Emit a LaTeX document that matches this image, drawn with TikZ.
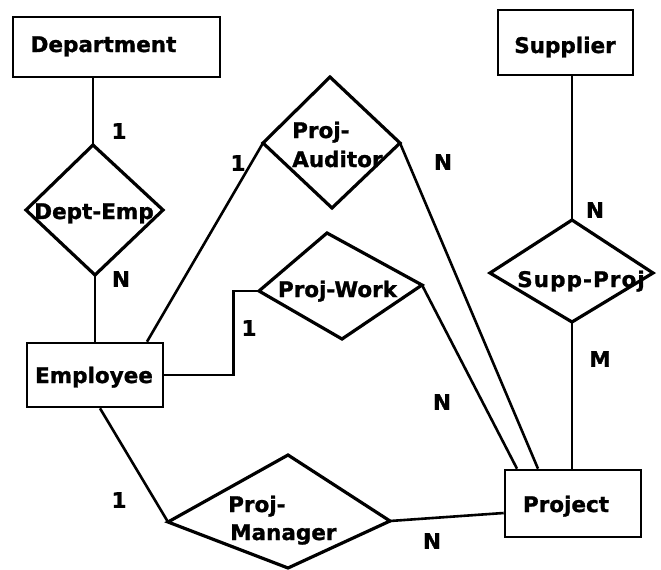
\documentclass[tikz,border=0pt]{standalone}
\usepackage{fontspec}
\setmainfont{DejaVu Sans}[BoldFeatures={FakeBold=1.2}]
\begin{document}
\begin{tikzpicture}[x=1pt,y=-1pt,
  lbl/.style={font=\bfseries\fontsize{21.5}{25}\selectfont, inner sep=0pt},
  card/.style={lbl},
  ent/.style={draw, line width=2.6pt, inner sep=0pt},
  rel/.style={draw, line width=3.2pt, line join=miter},
  link/.style={draw, line width=2.6pt}]
\useasboundingbox[fill=white] (0,0) rectangle (661,570);

% entity boxes
\node[ent, minimum width=207pt, minimum height=60pt] (dept) at (116.5,47) {};
\node[ent, minimum width=135pt, minimum height=65pt] (sup)  at (565.5,42.5) {};
\node[ent, minimum width=136pt, minimum height=64pt] (emp)  at (95,375) {};
\node[ent, minimum width=136pt, minimum height=67pt] (proj) at (573,503.5) {};

\node[lbl, anchor=base] (deptT) at (103.5,52) {Department};
\node[lbl, anchor=base] (supT)  at (565,53)   {Supplier};
\node[lbl, anchor=base] (empT)  at (94,383)   {Employee};
\node[lbl, anchor=base] (projT) at (566,512)  {Project};

% relationship diamonds (corner points)
\coordinate (de-n) at (93,145);  \coordinate (de-w) at (26,210);
\coordinate (de-e) at (163,210); \coordinate (de-s) at (95,275);
\coordinate (pa-n) at (330,77);  \coordinate (pa-w) at (263,143);
\coordinate (pa-e) at (400,143); \coordinate (pa-s) at (332,208);
\coordinate (pw-n) at (327,233); \coordinate (pw-w) at (259,291);
\coordinate (pw-e) at (422,285); \coordinate (pw-s) at (342,339);
\coordinate (sp-n) at (572,220); \coordinate (sp-w) at (490,273);
\coordinate (sp-e) at (653,273); \coordinate (sp-s) at (572,322);
\coordinate (pm-n) at (288,455); \coordinate (pm-w) at (168,522);
\coordinate (pm-e) at (390,521); \coordinate (pm-s) at (288,568);

\foreach \d in {de,pa,pw,sp,pm}
  \path[rel] (\d-n) -- (\d-e) -- (\d-s) -- (\d-w) -- cycle;

\node[lbl, anchor=base] (deT) at (94,219) {Dept-Emp};
\node[lbl, anchor=base west] (paT1) at (292,138) {Proj-};
\node[lbl, anchor=base west] (paT2) at (292,167) {Auditor};
\node[lbl, anchor=base] (pwT) at (337.5,297) {Proj-Work};
\node[lbl, anchor=base, font=\bfseries\fontsize{21.5}{25}\addfontfeatures{LetterSpace=5}] (spT) at (581,287) {Supp-Proj};
\node[lbl, anchor=base west] (pmT1) at (228,512) {Proj-};
\node[lbl, anchor=base west] (pmT2) at (230,540) {Manager};

% connectors
\path[link] (dept.south -| de-n) -- (de-n);
\path[link] (de-s) -- (emp.north);
\path[link] ([xshift=52pt]emp.north) -- (pa-w);
\path[link] (emp.east) -- ++(69,0) |- (pw-w);
\path[link] ([xshift=5pt]emp.south) -- (pm-w);
\path[link] (pm-e) -- ([yshift=-9.5pt]proj.west);
\path[link] (pa-e) -- ([xshift=-35pt]proj.north);
\path[link] (pw-e) -- ([xshift=-56pt]proj.north);
\path[link] (sp-s) -- (sp-s |- proj.north);
\path[link] (sp-n |- sup.south) -- (sp-n);

% cardinalities
\node[card] (c1) at (119,131) {1};
\node[card] (c2) at (121,279) {N};
\node[card] (c3) at (238,163) {1};
\node[card] (c4) at (443,162) {N};
\node[card] (c5) at (249,328) {1};
\node[card] (c6) at (442,402) {N};
\node[card] (c7) at (595,210) {N};
\node[card] (c8) at (600,359) {M};
\node[card] (c9) at (432,541) {N};
\node[card] (c10) at (119,500) {1};
\end{tikzpicture}
\end{document}
